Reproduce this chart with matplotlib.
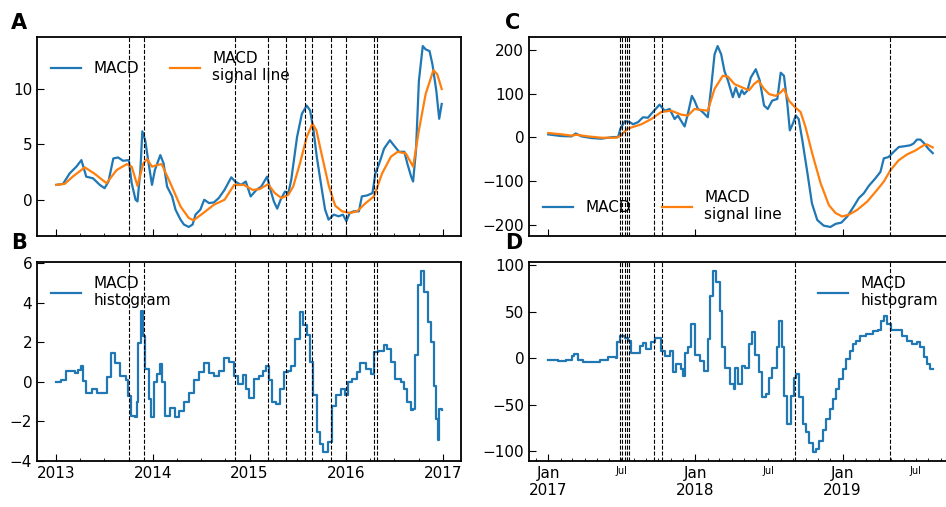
import matplotlib
matplotlib.use("Agg")
import matplotlib.pyplot as plt
import matplotlib.dates as mdates
from matplotlib.ticker import FuncFormatter
import pandas as pd

# ---- data (x in years after the start date) ----
# left: 2013-2016
macd_l_t = [0, 0.07, 0.139, 0.208, 0.26, 0.31, 0.38, 0.45, 0.50, 0.54, 0.59, 0.64, 0.69, 0.75,
            0.78, 0.82, 0.84, 0.87, 0.89, 0.92, 0.955, 0.99, 1.02, 1.076, 1.11, 1.146, 1.198,
            1.233, 1.285, 1.32, 1.37, 1.41, 1.44, 1.49, 1.53, 1.58, 1.63, 1.68, 1.74, 1.81, 1.85,
            1.91, 1.96, 2.01, 2.07, 2.12, 2.18, 2.215, 2.25, 2.285, 2.32, 2.365, 2.40, 2.43,
            2.49, 2.54, 2.59, 2.625, 2.66, 2.694, 2.747, 2.78, 2.816, 2.87, 2.92, 2.965, 3.0,
            3.035, 3.076, 3.13, 3.16, 3.215, 3.27, 3.30, 3.34, 3.39, 3.45, 3.49, 3.545, 3.60,
            3.63, 3.67, 3.69, 3.72, 3.75, 3.79, 3.82, 3.86, 3.89, 3.93, 3.96, 3.986]
macd_l = [1.34, 1.43, 2.38, 2.98, 3.57, 2.08, 1.93, 1.34, 1.04, 1.64, 3.72, 3.81, 3.51, 3.57,
          1.49, 0.0, -0.15, 2.68, 6.16, 5.36, 3.27, 1.34, 2.68, 4.02, 3.27, 1.19, 0.30,
          -0.89, -1.79, -2.23, -2.45, -2.23, -1.34, -0.89, 0.0, -0.30, -0.24, 0.15, 0.89, 2.02, 1.64,
          1.34, 1.64, 0.30, 0.89, 1.19, 2.08, 0.89, -0.15, -0.80, 0.0, 0.74, 0.60, 1.79,
          5.65, 7.74, 8.48, 8.04, 6.25, 3.87, 0.89, -0.89, -1.79, -1.34, -1.49, -1.34, -1.93,
          -1.19, -1.04, -1.04, 0.30, 0.39, 0.60, 2.38, 3.27, 4.61, 5.36, 4.91, 4.32, 4.32,
          3.27, 2.08, 1.64, 4.46, 10.71, 13.84, 13.54, 13.39, 12.2, 9.82, 7.29, 8.63]

signal_l_t = [0, 0.087, 0.17, 0.295, 0.40, 0.52, 0.625, 0.73, 0.78, 0.84, 0.90, 0.94, 0.99, 1.04,
              1.09, 1.18, 1.285, 1.37, 1.42, 1.53, 1.63, 1.74, 1.84, 1.94, 2.03, 2.10, 2.19,
              2.26, 2.33, 2.40, 2.45, 2.52, 2.59, 2.65, 2.69, 2.75, 2.82, 2.885, 2.955, 3.04,
              3.11, 3.20, 3.285, 3.37, 3.46, 3.53, 3.615, 3.69, 3.75, 3.82, 3.90, 3.94, 3.986]
signal_l = [1.34, 1.43, 2.08, 2.92, 2.32, 1.49, 2.68, 3.21, 2.98, 1.25, 3.27, 3.66, 2.98, 3.12,
            3.21, 1.49, -0.60, -1.64, -1.85, -1.13, -0.45, 0.0, 1.34, 1.34, 0.89, 0.95, 1.40,
            0.60, 0.15, 0.45, 1.19, 3.27, 5.65, 6.85, 6.25, 3.87, 1.19, -0.54, -1.04, -1.19,
            -1.04, -0.30, 0.30, 2.38, 3.87, 4.32, 4.17, 2.98, 6.25, 9.52, 11.67, 11.3, 9.97]

hist_l_t = [0, 0.05, 0.10, 0.156, 0.19, 0.226, 0.26, 0.28, 0.31, 0.365, 0.417, 0.486, 0.52,
            0.5625, 0.61, 0.66, 0.72, 0.746, 0.774, 0.816, 0.833, 0.85, 0.875, 0.896, 0.92,
            0.955, 0.98, 1.007, 1.04, 1.07, 1.094, 1.128, 1.18, 1.233, 1.27, 1.32, 1.37, 1.42,
            1.476, 1.53, 1.58, 1.63, 1.68, 1.736, 1.79, 1.84, 1.875, 1.93, 1.96, 1.997, 2.05,
            2.10, 2.14, 2.17, 2.20, 2.226, 2.27, 2.31, 2.35, 2.40, 2.43, 2.47, 2.52, 2.555,
            2.59, 2.625, 2.66, 2.694, 2.73, 2.76, 2.806, 2.85, 2.896, 2.944, 2.99, 3.02, 3.06,
            3.11, 3.146, 3.2, 3.25, 3.29, 3.33, 3.39, 3.42, 3.46, 3.5, 3.56, 3.60, 3.63, 3.67,
            3.69, 3.71, 3.74, 3.77, 3.80, 3.84, 3.875, 3.91, 3.93, 3.95, 3.96, 3.986]
hist_l = [0.0, 0.1, 0.55, 0.55, 0.47, 0.6, 0.8, 0.05, -0.54, -0.37, -0.57, -0.57, 0.22,
          1.48, 0.97, 0.3, 0.1, -0.7, -1.71, -1.8, -1.04, 1.98, 3.58, 2.32, 0.64,
          -0.87, -1.8, 0.0, 0.39, 0.89, 0.0, -1.71, -1.33, -1.8, -1.46, -1.04, -0.54, 0.1,
          0.5, 0.97, 0.47, 0.3, 0.55, 1.18, 1.0, 0.3, -0.12, 0.34, -0.37, -0.84, 0.13,
          0.29, 0.57, 0.79, 0.07, -1.03, -1.11, -0.35, 0.49, 0.57, 0.82, 2.17, 3.52, 2.85,
          2.34, 0.99, -0.69, -2.54, -3.13, -3.55, -3.05, -1.2, -0.69, -0.35, -0.69, 0.0, 0.15,
          0.49, 0.96, 0.66, 0.40, 1.5, 1.58, 1.84, 1.67, 0.99, 0.15, 0.0, -0.35, -1.03, -1.4,
          -1.36, 1.33, 4.87, 5.62, 4.53, 3.01, 2.0, -0.19, -1.87, -2.96, -1.36, -1.4]

# right: 2017-2019
macd_r_t = [0.0, 0.09, 0.158, 0.187, 0.226, 0.293, 0.36, 0.44, 0.474, 0.49, 0.52, 0.553, 0.576,
            0.61, 0.643, 0.677, 0.71, 0.756, 0.79, 0.824, 0.858, 0.88, 0.907, 0.926, 0.948,
            0.975, 0.993, 1.016, 1.038, 1.06, 1.083, 1.106, 1.129, 1.15, 1.174, 1.196, 1.22,
            1.253, 1.273, 1.296, 1.314, 1.33, 1.352, 1.375, 1.409, 1.436, 1.465, 1.49, 1.52,
            1.555, 1.578, 1.60, 1.623, 1.64, 1.66, 1.68, 1.70, 1.725, 1.76, 1.79, 1.826, 1.87,
            1.916, 1.95, 1.99, 2.03, 2.074, 2.108, 2.142, 2.176, 2.22, 2.255, 2.278, 2.31,
            2.345, 2.38, 2.424, 2.458, 2.48, 2.503, 2.526, 2.55, 2.58, 2.61]
macd_r = [6.8, 3, 2.3, 9, 2.3, -1.5, -3, 0.8, 0.8, 20, 37, 35, 30,
          35, 46, 45, 58, 75, 61, 65, 42, 50, 35, 25, 54,
          95, 84, 65, 61, 54, 46, 114, 190, 209, 190, 152, 130,
          92, 114, 92, 108, 99, 107, 137, 156, 130, 73, 65, 84,
          88, 148, 141, 77, 16, 31, 50, 42, -7, -83, -151, -189, -202,
          -205, -198, -195, -181, -158, -139, -128, -111, -94, -79, -48, -45,
          -33, -22, -20, -18, -14, -5, -5, -13, -26, -36]

signal_r_t = [0.0, 0.09, 0.158, 0.19, 0.27, 0.36, 0.463, 0.485, 0.54, 0.632, 0.70, 0.767, 0.835,
              0.903, 0.948, 0.993, 1.038, 1.083, 1.129, 1.185, 1.22, 1.264, 1.318, 1.364, 1.397,
              1.426, 1.465, 1.50, 1.544, 1.578, 1.60, 1.634, 1.675, 1.713, 1.747, 1.792, 1.849,
              1.905, 1.95, 1.995, 2.04, 2.097, 2.165, 2.233, 2.278, 2.323, 2.38, 2.436, 2.492,
              2.549, 2.57, 2.61]
signal_r = [10, 7, 4, 6, 2.3, -0.8, -0.8, 2.3, 20, 30, 42, 58, 61,
            52, 50, 65, 63, 61, 111, 141, 139, 122, 114, 108, 122,
            130, 111, 99, 95, 103, 111, 84, 69, 58, 23, -37, -105,
            -155, -173, -181, -177, -166, -147, -120, -101, -75, -52, -39, -30,
            -18, -16, -23]

hist_r_t = [0, 0.068, 0.124, 0.158, 0.176, 0.203, 0.237, 0.305, 0.35, 0.406, 0.44, 0.463, 0.47,
            0.49, 0.52, 0.54, 0.564, 0.598, 0.62, 0.643, 0.666, 0.70, 0.722, 0.745, 0.767, 0.79,
            0.824, 0.846, 0.87, 0.9, 0.914, 0.926, 0.948, 0.97, 0.993, 1.027, 1.06, 1.083, 1.10,
            1.117, 1.14, 1.163, 1.178, 1.20, 1.235, 1.258, 1.27, 1.29, 1.315, 1.338, 1.36, 1.384,
            1.406, 1.43, 1.45, 1.475, 1.50, 1.52, 1.543, 1.555, 1.566, 1.59, 1.60, 1.623, 1.64,
            1.65, 1.67, 1.685, 1.703, 1.726, 1.75, 1.772, 1.795, 1.817, 1.84, 1.863, 1.886,
            1.91, 1.93, 1.954, 1.977, 2.0, 2.023, 2.046, 2.068, 2.09, 2.114, 2.16, 2.205, 2.24,
            2.256, 2.28, 2.30, 2.33, 2.365, 2.40, 2.434, 2.468, 2.50, 2.525, 2.548, 2.57, 2.594,
            2.61]
hist_r = [-2, -3, -2, 2.5, 5, -2, -4, -4, -2, 1.5, 1.5, 0.7, 17,
          24, 22, 19, 6, 6, 13, 16, 10, 17, 22, 22, 8, 2.5,
          8, -15, -6, -12, -19, 6, 12, 37, 4, -3, -14, 21, 67,
          94, 82, 51, 12, -10, -28, -33, -10, -28, -8, -10, 15, 28,
          4, -15, -42, -39, -21, -10, -10, 12, 40, 12, -41, -71, -71,
          -41, -21, -17, -42, -71, -80, -91, -101, -98, -89, -77, -66,
          -55, -44, -33, -22, -12, -1, 8, 15, 19, 24, 26, 29, 30,
          40, 46, 37, 31, 30, 24, 19, 15, 17, 12, 1, -6, -12,
          -12]

events_l = ["2013-10-01", "2013-11-27", "2014-11-07", "2015-03-10", "2015-05-20", "2015-07-28",
            "2015-08-25", "2015-11-04", "2016-01-01", "2016-04-15", "2016-04-26"]
events_r = ["2017-06-28", "2017-07-04", "2017-07-10", "2017-07-15", "2017-07-20",
            "2017-09-20", "2017-10-10", "2018-09-05", "2019-04-28"]


def to_dates(start, yrs):
    return pd.Timestamp(start) + pd.to_timedelta([y * 365.25 for y in yrs], unit="D")


plt.rcParams["font.size"] = 11
fig = plt.figure(figsize=(9.46, 5.07), dpi=100)
axA = fig.add_axes([0.0391, 0.5345, 0.4482, 0.3925])
axB = fig.add_axes([0.0391, 0.0907, 0.4482, 0.3925], sharex=axA)
axC = fig.add_axes([0.5592, 0.5345, 0.4471, 0.3925])
axD = fig.add_axes([0.5592, 0.0907, 0.4471, 0.3925], sharex=axC)

blue, orange = "#1f77b4", "#ff7f0e"

axA.plot(to_dates("2013-01-01", macd_l_t), macd_l, color=blue, lw=1.6, label="MACD")
axA.plot(to_dates("2013-01-01", signal_l_t), signal_l, color=orange, lw=1.6, label="MACD\nsignal line")
axB.plot(to_dates("2013-01-01", hist_l_t), hist_l, color=blue, lw=1.6, drawstyle="steps-post",
         label="MACD\nhistogram")
axC.plot(to_dates("2017-01-01", macd_r_t), macd_r, color=blue, lw=1.6, label="MACD")
axC.plot(to_dates("2017-01-01", signal_r_t), signal_r, color=orange, lw=1.6, label="MACD\nsignal line")
axD.plot(to_dates("2017-01-01", hist_r_t), hist_r, color=blue, lw=1.6, drawstyle="steps-post",
         label="MACD\nhistogram")

for ax in (axA, axB):
    for d in events_l:
        ax.axvline(pd.Timestamp(d), color="k", ls="--", lw=0.8)
for ax in (axC, axD):
    for d in events_r:
        ax.axvline(pd.Timestamp(d), color="k", ls="--", lw=0.8)

axA.legend(loc="upper left", ncol=2, frameon=False, fontsize=11)
axB.legend(loc="upper left", frameon=False, fontsize=11)
axC.legend(loc="lower left", ncol=2, frameon=False, fontsize=11)
axD.legend(loc="upper right", frameon=False, fontsize=11)

axB.set_ylim(-4, 6.05)
axA.set_yticks([0, 5, 10])
axB.set_yticks([-4, -2, 0, 2, 4, 6])

# left x axis: years, quarterly minor ticks
axB.xaxis.set_major_locator(mdates.YearLocator())
axB.xaxis.set_major_formatter(mdates.DateFormatter("%Y"))
axB.xaxis.set_minor_locator(mdates.MonthLocator(bymonth=[4, 7, 10]))

# right x axis: Jan/year major, monthly minor with "Jul"
axD.xaxis.set_major_locator(mdates.MonthLocator(bymonth=1))
axD.xaxis.set_major_formatter(mdates.DateFormatter("Jan\n%Y"))
axD.xaxis.set_minor_locator(mdates.MonthLocator())
axD.xaxis.set_minor_formatter(FuncFormatter(
    lambda x, pos: "Jul" if mdates.num2date(x).month == 7 else ""))
axD.tick_params(axis="x", which="minor", labelsize=7)

for ax in (axA, axB, axC, axD):
    ax.tick_params(direction="in", which="both", top=False, right=False)
    ax.tick_params(which="major", length=5)
    ax.tick_params(which="minor", length=2.5)
    for s in ax.spines.values():
        s.set_linewidth(1.3)
axA.tick_params(labelbottom=False)
axC.tick_params(labelbottom=False, which="both")
axC.tick_params(axis="x", which="minor", length=0)

fig.text(0.012, 0.975, "A", fontsize=15, fontweight="bold", va="top")
fig.text(0.012, 0.54, "B", fontsize=15, fontweight="bold", va="top")
fig.text(0.534, 0.975, "C", fontsize=15, fontweight="bold", va="top")
fig.text(0.534, 0.54, "D", fontsize=15, fontweight="bold", va="top")

fig.savefig("out.png", dpi=100)
